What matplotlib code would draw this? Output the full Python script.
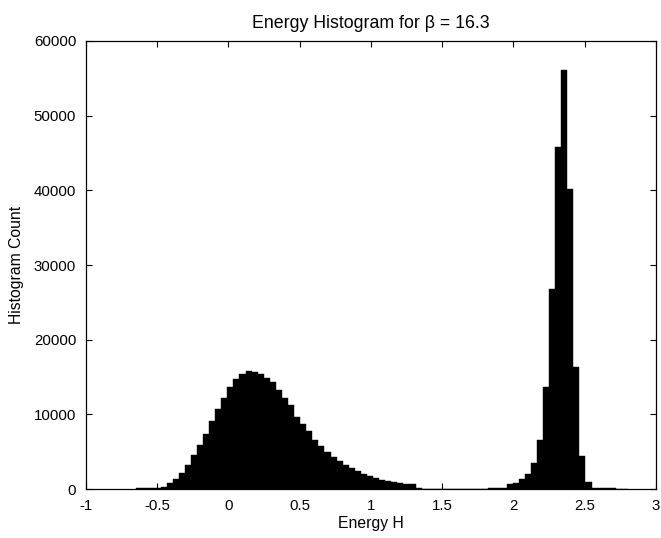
import numpy as np
import matplotlib
matplotlib.use("Agg")
import matplotlib.pyplot as plt

plt.rcParams['font.family'] = ['Liberation Sans', 'DejaVu Sans']
plt.rcParams['axes.unicode_minus'] = False

# histogram bins (first bin left edge and bin width)
binStart = -0.647
binWidth = 0.0426

# counts per bin
counts = [
    100, 120, 150, 200, 300,
    770, 1340, 2190, 3220, 4520, 5860, 7380, 9130, 10740, 12250,
    13600, 14720, 15470, 15840, 15610, 15390, 14850, 14320, 13330, 12250,
    11230, 9660, 8680, 7780, 6620, 5830, 4940, 4250, 3760, 3220,
    2780, 2440, 2050, 1760, 1520, 1250, 1090, 920, 770, 640, 620,
    80, 70, 60, 50, 50, 40, 40, 40, 40, 50, 60, 70, 90, 120, 200,
    630, 850, 1300, 1970, 3450, 6620, 13690, 26840, 45800, 56140,
    40170, 16280, 4430, 900,
    170, 120, 100, 80, 60, 50,
]

xTicks = [-1, -0.5, 0, 0.5, 1, 1.5, 2, 2.5, 3]
xTickLabels = ['-1', '-0.5', '0', '0.5', '1', '1.5', '2', '2.5', '3']
yTicks = [0, 10000, 20000, 30000, 40000, 50000, 60000]

leftEdges = binStart + binWidth * np.arange(len(counts))

fig = plt.figure(figsize=(6.61, 5.38), dpi=100)
ax = fig.add_axes([0.130, 0.091, 0.8624, 0.8328])
ax.bar(leftEdges, counts, width=binWidth, align='edge', color='black',
       edgecolor='black', linewidth=0.3)

ax.set_xlim(-1, 3)
ax.set_ylim(0, 60000)
ax.set_xticks(xTicks)
ax.set_xticklabels(xTickLabels)
ax.set_yticks(yTicks)
ax.tick_params(direction='in', length=4.5, width=0.8, top=True, right=True,
               labelsize=10.8, pad=7)
for s in ax.spines.values():
    s.set_linewidth(0.9)

ax.set_title('Energy Histogram for β = 16.3', fontsize=12.8, pad=9)
ax.set_xlabel('Energy H', fontsize=11.3, labelpad=2)
ax.set_ylabel('Histogram Count', fontsize=11.3, labelpad=7)

fig.savefig('out.png', dpi=100)
